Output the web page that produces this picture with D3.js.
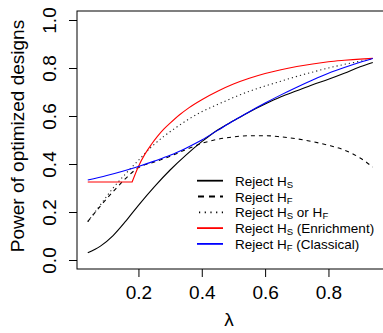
<!DOCTYPE html>
<html><head><meta charset="utf-8">
<script src="https://cdn.jsdelivr.net/npm/d3@7"></script>
<style>body{margin:0;background:#fff}svg{display:block;font-family:"Liberation Sans",Arial,sans-serif}</style>
</head><body><svg id="c" width="383" height="333"></svg>
<script>
// Data (lambda grids and power values)
const lambdaS = [0.04,0.08,0.12,0.16,0.2,0.25,0.3,0.35,0.4,0.45,0.5,0.55,0.6,0.65,0.7,0.75,0.8,0.85,0.9,0.94];
const rejectHS = [0.03,0.058,0.102,0.162,0.228,0.305,0.375,0.437,0.493,0.542,0.58,0.617,0.65,0.68,0.705,0.73,0.753,0.778,0.805,0.823];
const lambdaF = [0.04,0.08,0.12,0.16,0.2,0.25,0.3,0.35,0.4,0.45,0.5,0.55,0.6,0.65,0.7,0.75,0.8,0.85,0.9,0.94];
const rejectHF = [0.16,0.225,0.285,0.34,0.385,0.408,0.432,0.46,0.486,0.503,0.513,0.518,0.518,0.513,0.505,0.493,0.478,0.458,0.425,0.387];
const lambdaE = [0.04,0.08,0.12,0.16,0.2,0.24,0.28,0.32,0.36,0.4,0.45,0.5,0.55,0.6,0.65,0.7,0.75,0.8,0.85,0.9,0.94];
const rejectEither = [0.16,0.23,0.3,0.36,0.415,0.47,0.515,0.553,0.588,0.618,0.648,0.677,0.703,0.725,0.745,0.765,0.783,0.8,0.815,0.828,0.838];
const lambdaR = [0.04,0.1,0.18,0.2,0.22,0.24,0.26,0.28,0.3,0.33,0.36,0.4,0.45,0.5,0.55,0.6,0.65,0.7,0.75,0.8,0.85,0.9,0.94];
const enrichHS = [0.325,0.325,0.325,0.39,0.44,0.48,0.515,0.545,0.57,0.605,0.635,0.668,0.703,0.733,0.757,0.777,0.793,0.806,0.817,0.826,0.832,0.837,0.84];
const lambdaB = [0.04,0.1,0.15,0.2,0.25,0.3,0.35,0.4,0.45,0.5,0.55,0.6,0.65,0.7,0.75,0.8,0.85,0.9,0.94];
const classicalHF = [0.333,0.352,0.37,0.39,0.412,0.436,0.466,0.5,0.54,0.58,0.618,0.654,0.688,0.72,0.75,0.778,0.802,0.824,0.84];
const xTicks = [0.2,0.4,0.6,0.8];
const yTicks = [0,0.2,0.4,0.6,0.8,1.0];
const legendItems = [
  {main:"Reject H", sub:"S", after:"", dash:null, color:"#000"},
  {main:"Reject H", sub:"F", after:"", dash:"6,5", color:"#000"},
  {main:"Reject H", sub:"S", after:" or H", sub2:"F", dash:"1.2,4.5", color:"#000"},
  {main:"Reject H", sub:"S", after:" (Enrichment)", dash:null, color:"#ff0000"},
  {main:"Reject H", sub:"F", after:" (Classical)", dash:null, color:"#0000ff"}
];

const svg = d3.select("#c");
const x = d3.scaleLinear().domain([0.006,0.976]).range([77,384.2]);
const y = d3.scaleLinear().domain([-0.0375,1.0375]).range([269,11]);

const line = d3.line().x(d=>x(d[0])).y(d=>y(d[1])).curve(d3.curveMonotoneX);
const lineLin = d3.line().x(d=>x(d[0])).y(d=>y(d[1]));
function draw(xs, ys, color, dash){
  const p = svg.append("path").datum(xs.map((v,i)=>[v,ys[i]]))
    .attr("d", line).attr("fill","none").attr("stroke",color).attr("stroke-width",1.1);
  if(dash) p.attr("stroke-dasharray",dash);
}
draw(lambdaS, rejectHS, "#000", null);
draw(lambdaF, rejectHF, "#000", "4,4");
draw(lambdaE, rejectEither, "#222", "1.2,3");
// Enrichment: flat segment then curve
const rPts = lambdaR.map((v,i)=>[v,enrichHS[i]]);
svg.append("path").attr("d", lineLin(rPts.slice(0,3)) + line(rPts.slice(2)).replace(/^M/,"L"))
  .attr("fill","none").attr("stroke","#ff0000").attr("stroke-width",1.1);
draw(lambdaB, classicalHF, "#0000ff", null);

// Box
svg.append("rect").attr("x",x(0.006)).attr("y",y(1.0375)).attr("width",x(0.976)-x(0.006)).attr("height",y(-0.0375)-y(1.0375))
  .attr("fill","none").attr("stroke","#000").attr("stroke-width",1);

// X axis ticks
const xa = svg.append("g").attr("transform",`translate(0,${y(-0.0375)})`)
  .call(d3.axisBottom(x).tickValues(xTicks).tickSize(8).tickFormat(d3.format(".1f")));
xa.select(".domain").remove();
xa.selectAll("text").attr("font-size",19).attr("fill","#000").attr("dy","1.0em").attr("font-family","Liberation Sans, Arial");
// Y axis ticks
const ya = svg.append("g").attr("transform",`translate(${x(0.006)},0)`)
  .call(d3.axisLeft(y).tickValues(yTicks).tickSize(8).tickFormat(d3.format(".1f")));
ya.select(".domain").remove();
ya.selectAll("text").attr("font-size",19).attr("fill","#000").attr("font-family","Liberation Sans, Arial")
  .attr("x",null).attr("dy",null).attr("text-anchor","middle")
  .attr("transform","translate(-21,0) rotate(-90)");

// Axis titles
svg.append("text").attr("x",229).attr("y",326).attr("text-anchor","middle").attr("font-size",19).text("λ");
svg.append("text").attr("transform","translate(24,136) rotate(-90)").attr("text-anchor","middle").attr("font-size",19).text("Power of optimized designs");

// Legend
const lg = svg.append("g");
legendItems.forEach((it,i)=>{
  const yy = 180.7 + i*15.8;
  const l = lg.append("line").attr("x1",197).attr("x2",223).attr("y1",yy).attr("y2",yy)
    .attr("stroke",it.color).attr("stroke-width",1.8);
  if(it.dash) l.attr("stroke-dasharray",it.dash).attr("stroke-dashoffset", it.dash==="6,5"? -1 : -2);
  const t = lg.append("text").attr("x",235).attr("y",yy+5).attr("font-size",13.5);
  t.append("tspan").text(it.main);
  t.append("tspan").attr("font-size",9.5).attr("dy",2).text(it.sub);
  if(it.after){
    t.append("tspan").attr("dy",-2).text(it.after);
    if(it.sub2) t.append("tspan").attr("font-size",9.5).attr("dy",2).text(it.sub2);
  }
});
</script></body></html>
